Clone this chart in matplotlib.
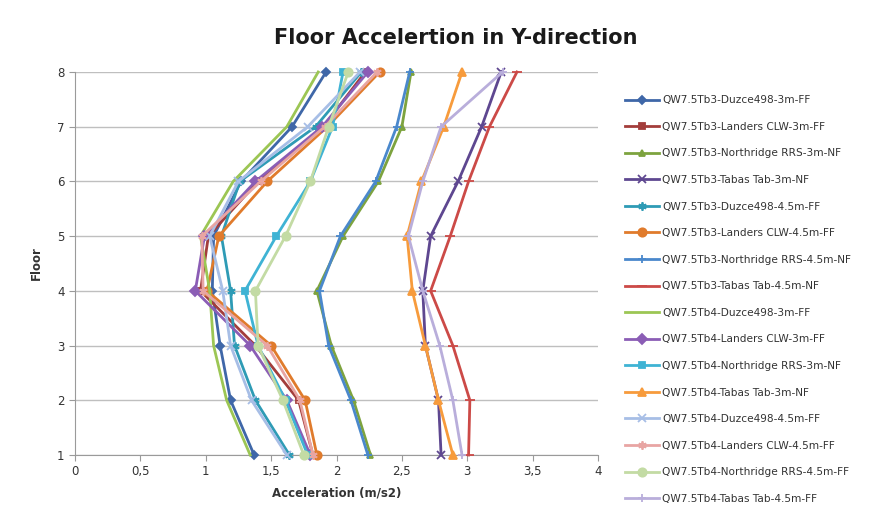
import matplotlib
matplotlib.use('Agg')
import matplotlib.pyplot as plt

floors = [1, 2, 3, 4, 5, 6, 7, 8]

names = ['QW7.5Tb3-Duzce498-3m-FF', 'QW7.5Tb3-Landers CLW-3m-FF', 'QW7.5Tb3-Northridge RRS-3m-NF',
         'QW7.5Tb3-Tabas Tab-3m-NF', 'QW7.5Tb3-Duzce498-4.5m-FF', 'QW7.5Tb3-Landers CLW-4.5m-FF',
         'QW7.5Tb3-Northridge RRS-4.5m-NF', 'QW7.5Tb3-Tabas Tab-4.5m-NF', 'QW7.5Tb4-Duzce498-3m-FF',
         'QW7.5Tb4-Landers CLW-3m-FF', 'QW7.5Tb4-Northridge RRS-3m-NF', 'QW7.5Tb4-Tabas Tab-3m-NF',
         'QW7.5Tb4-Duzce498-4.5m-FF', 'QW7.5Tb4-Landers CLW-4.5m-FF', 'QW7.5Tb4-Northridge RRS-4.5m-FF',
         'QW7.5Tb4-Tabas Tab-4.5m-FF']

# acceleration (m/s2) per floor 1..8
tb3_duzce_3 = [1.37, 1.19, 1.11, 1.05, 1.06, 1.27, 1.66, 1.92]
tb3_landers_3 = [1.82, 1.71, 1.38, 0.96, 1.02, 1.40, 1.90, 2.22]
tb3_north_3 = [2.26, 2.13, 1.96, 1.85, 2.05, 2.32, 2.50, 2.57]
tb3_tabas_3 = [2.80, 2.78, 2.68, 2.66, 2.72, 2.93, 3.11, 3.26]
tb3_duzce_45 = [1.64, 1.38, 1.22, 1.19, 1.12, 1.26, 1.84, 2.19]
tb3_landers_45 = [1.85, 1.76, 1.50, 1.01, 1.10, 1.47, 1.93, 2.33]
tb3_north_45 = [2.24, 2.11, 1.94, 1.87, 2.03, 2.30, 2.46, 2.56]
tb3_tabas_45 = [3.01, 3.02, 2.89, 2.72, 2.87, 3.01, 3.17, 3.38]
tb4_duzce_3 = [1.34, 1.16, 1.06, 1.03, 0.96, 1.21, 1.62, 1.86]
tb4_landers_3 = [1.80, 1.62, 1.34, 0.92, 0.99, 1.38, 1.89, 2.24]
tb4_north_3 = [1.78, 1.61, 1.40, 1.30, 1.54, 1.80, 1.97, 2.05]
tb4_tabas_3 = [2.89, 2.78, 2.68, 2.58, 2.54, 2.65, 2.82, 2.96]
tb4_duzce_45 = [1.62, 1.35, 1.19, 1.13, 1.03, 1.25, 1.78, 2.18]
tb4_landers_45 = [1.82, 1.72, 1.47, 0.98, 0.97, 1.42, 1.91, 2.31]
tb4_north_45 = [1.75, 1.59, 1.40, 1.38, 1.61, 1.80, 1.94, 2.09]
tb4_tabas_45 = [2.96, 2.89, 2.79, 2.66, 2.55, 2.66, 2.80, 3.27]

series = [tb3_duzce_3, tb3_landers_3, tb3_north_3, tb3_tabas_3, tb3_duzce_45, tb3_landers_45,
          tb3_north_45, tb3_tabas_45, tb4_duzce_3, tb4_landers_3, tb4_north_3, tb4_tabas_3,
          tb4_duzce_45, tb4_landers_45, tb4_north_45, tb4_tabas_45]

colors = ['#3F67A8', '#A33D3B', '#7DA33F', '#5E4790', '#2E9BB5', '#E07B2C', '#4A88CC', '#CC4A47',
          '#9CC654', '#8B5DB5', '#3FB3D4', '#F79B3C', '#A7BEE6', '#E8A5A3', '#C3DBA4', '#B9AEDB']
star = (6, 2, 0)
markers = ['D', 's', '^', 'x', star, 'o', '+', '_', 'None', 'D', 's', '^', 'x', star, 'o', '+']
msizes = [4, 5, 5, 6, 6, 6, 6, 7, 4, 5, 5, 6, 6, 6, 6, 6]

fig = plt.figure(figsize=(8.9, 5.19), dpi=100)
ax = fig.add_axes([75/890, 1-455/519, 523/890, 383/519])

for i in range(len(series)):
    ax.plot(series[i], floors, color=colors[i], lw=2, marker=markers[i], ms=msizes[i],
            mew=1.3, label=names[i], clip_on=False, zorder=3)

ax.set_xlim(0, 4)
ax.set_ylim(1, 8)
ax.set_xticks([0, 0.5, 1, 1.5, 2, 2.5, 3, 3.5, 4])
ax.set_xticklabels(['0', '0,5', '1', '1,5', '2', '2,5', '3', '3,5', '4'])
ax.set_yticks(floors)
ax.grid(axis='y', color='#BFBFBF', lw=1)
ax.set_axisbelow(True)
for s in ['top', 'right']:
    ax.spines[s].set_visible(False)
for s in ['left', 'bottom']:
    ax.spines[s].set_color('#9A9A9A')
ax.tick_params(colors='#9A9A9A', labelcolor='#333333', labelsize=8.5, length=4)

ax.set_xlabel('Acceleration (m/s2)', fontsize=8.5, fontweight='bold', color='#333333', labelpad=6)
ax.set_ylabel('Floor', fontsize=8.5, fontweight='bold', color='#333333', labelpad=10)
fig.text(456/890, 1-38/519, 'Floor Accelertion in Y-direction', fontsize=15, fontweight='bold',
         ha='center', va='center', color='#1A1A1A')

ax.legend(loc='upper left', bbox_to_anchor=(621/890, 1-91/519), bbox_transform=fig.transFigure,
          frameon=False, fontsize=7.6, handlelength=3.2, handletextpad=0.3,
          labelspacing=1.57, borderaxespad=0, labelcolor='#333333')

plt.savefig('out.png', dpi=100)
